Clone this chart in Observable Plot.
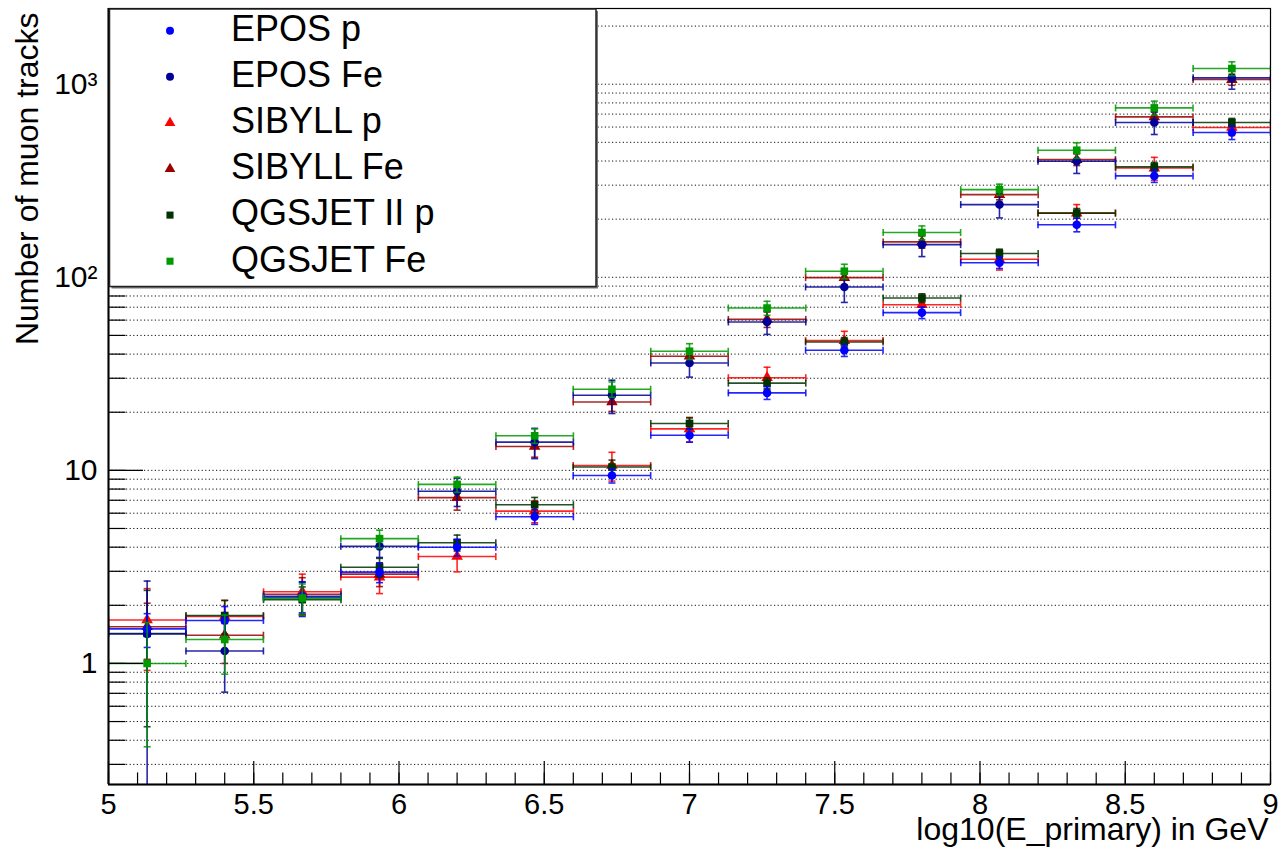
<!DOCTYPE html>
<html>
<head>
<meta charset="utf-8">
<script src="https://cdn.jsdelivr.net/npm/d3@7"></script>
<script src="https://cdn.jsdelivr.net/npm/@observablehq/plot@0.6"></script>
<style>
  html, body { margin: 0; padding: 0; background: #fff; }
  #chart { position: relative; width: 1280px; height: 855px; font-family: "Liberation Sans", Arial, Helvetica, sans-serif; }
  #chart svg { display: block; }
  #legend { position: absolute; left: 100px; top: 0px; }
</style>
</head>
<body>
<div id="chart"></div>
<script>
// Energy bins in log10(E_primary / GeV)
const binCenters = [5.133, 5.4, 5.667, 5.933, 6.2, 6.467, 6.733, 7.0, 7.267, 7.533, 7.8, 8.067, 8.333, 8.6, 8.867];
const binHalfWidth = 0.1333;

// Mean number of muon tracks per bin, with statistical errors
const eposP      = [1.51, 1.67, 2.23, 2.97, 4.0, 5.75, 9.4, 15.2, 25.2, 41.9, 65.6, 119, 187, 335, 562];
const eposPErr   = [0.3, 0.3, 0.4, 0.35, 0.4, 0.5, 0.8, 1.2, 1.9, 3.0, 4.5, 8, 15, 25, 45];
const eposFe     = [1.42, 1.16, 2.2, 4.04, 7.8, 14.0, 24.5, 36.0, 58.7, 89.1, 147.6, 238, 399, 633, 1079];
const eposFeErr  = [1.25, 0.45, 0.45, 0.5, 1.3, 2.5, 4.8, 5.6, 8.1, 15, 19.6, 35, 54, 84, 137];
const sibyllP    = [1.68, 1.75, 2.35, 2.8, 3.58, 6.15, 10.6, 16.4, 30.2, 47.0, 72.1, 124, 215, 368, 597];
const sibyllPErr = [0.76, 0.37, 0.55, 0.5, 0.6, 0.8, 1.8, 2.4, 4.0, 5.5, 6.5, 15, 23, 50, 55];
const sibyllFe   = [1.55, 1.4, 2.28, 2.9, 7.22, 13.3, 22.6, 39.0, 60.5, 99.6, 152.5, 268, 407, 677, 1057];
const sibyllFeErr= [0.5, 0.4, 0.5, 0.4, 1.0, 1.6, 2.4, 3.5, 5.5, 8.5, 11, 16, 28, 45, 70];
const qgsP       = [1.43, 1.77, 2.14, 3.15, 4.22, 6.64, 10.4, 17.5, 28.3, 46.2, 78.1, 132.7, 215, 373, 633];
const qgsPErr    = [0.96, 0.35, 0.35, 0.35, 0.4, 0.6, 0.9, 1.2, 1.8, 2.5, 4, 7, 12, 20, 32];
const qgsFe      = [1.0, 1.33, 2.18, 4.43, 8.46, 15.1, 26.3, 41.4, 69.3, 107.5, 170.5, 284.6, 455, 754, 1206];
const qgsFeErr   = [0.63, 0.45, 0.4, 0.47, 0.77, 1.3, 2.4, 3.9, 5.8, 9.3, 14, 19, 42, 63, 100];

const seriesNames   = ["EPOS p", "EPOS Fe", "SIBYLL p", "SIBYLL Fe", "QGSJET II p", "QGSJET Fe"];
const seriesColors  = ["#0000ff", "#000099", "#ff0000", "#990000", "#003300", "#009900"];
const seriesSymbols = ["circle", "circle", "triangle", "triangle", "square", "square"];
const seriesValues  = [eposP, eposFe, sibyllP, sibyllFe, qgsP, qgsFe];
const seriesErrors  = [eposPErr, eposFeErr, sibyllPErr, sibyllFeErr, qgsPErr, qgsFeErr];
// order in which the histograms are painted (last on top)
const drawOrder = [2, 3, 4, 1, 0, 5];

const xTickLabels = [5, 5.5, 6, 6.5, 7, 7.5, 8, 8.5, 9];
const yTickLabels = [1, 10, 100, 1000];
const yLabelText  = {1: "1", 10: "10", 100: "10\u00B2", 1000: "10\u00B3"};

// layout
const W = 1280, H = 855;
const M = {top: 8, right: 10, bottom: 71, left: 108};
const frameW = W - M.left - M.right;
const frameH = H - M.top - M.bottom;
const xDomain = [5, 9];
const yDomain = [0.236, 2467];
const font = "'Liberation Sans', Arial, Helvetica, sans-serif";

// minor tick / grid values: 1..9 x 10^k inside the y range
const yMinor = [];
for (let k = -1; k <= 3; k++) for (let m = 1; m <= 9; m++) {
  const v = +(m * Math.pow(10, k)).toPrecision(3);
  if (v >= yDomain[0] && v <= yDomain[1]) yMinor.push(v);
}
const xMinor = d3.range(50, 91).map(d => d / 10);

// error-bar end caps
const vCap = {draw(ctx) { ctx.moveTo(0, -3.5); ctx.lineTo(0, 3.5); }};
const hCap = {draw(ctx) { ctx.moveTo(-3.5, 0); ctx.lineTo(3.5, 0); }};

const seriesMarks = drawOrder.flatMap(i => {
  const color = seriesColors[i];
  const rows = binCenters.map((c, j) => ({
    c, lo: c - binHalfWidth, hi: c + binHalfWidth,
    v: seriesValues[i][j], e: seriesErrors[i][j]
  }));
  const line = {stroke: color, strokeWidth: 1.6, strokeOpacity: 0.85, clip: true};
  const cap = {stroke: color, strokeWidth: 1.6, strokeOpacity: 0.85, fill: "none", clip: true};
  return [
    Plot.ruleY(rows, {y: "v", x1: "lo", x2: "hi", ...line}),
    Plot.ruleX(rows, {x: "c", y1: d => d.v - d.e, y2: d => d.v + d.e, ...line}),
    Plot.dot(rows, {x: "lo", y: "v", symbol: vCap, ...cap}),
    Plot.dot(rows, {x: "hi", y: "v", symbol: vCap, ...cap}),
    Plot.dot(rows, {x: "c", y: d => d.v + d.e, symbol: hCap, ...cap}),
    Plot.dot(rows, {x: "c", y: d => d.v - d.e, symbol: hCap, ...cap}),
    Plot.dot(rows, {x: "c", y: "v", symbol: seriesSymbols[i], r: 4.3, fill: color, clip: true})
  ];
});

const chart = Plot.plot({
  width: W,
  height: H,
  marginTop: M.top,
  marginRight: M.right,
  marginBottom: M.bottom,
  marginLeft: M.left,
  style: {fontFamily: font, background: "#fff", color: "#000", overflow: "visible"},
  x: {domain: xDomain, axis: null},
  y: {type: "log", domain: yDomain, axis: null},
  marks: [
    // dotted horizontal grid at every decade subdivision
    Plot.ruleY(yMinor, {y: d => d, stroke: "#111", strokeWidth: 1, strokeDasharray: "1.2,2.4"}),
    ...seriesMarks,
    // inward ticks, ROOT style
    Plot.tickY(yMinor, {y: d => d, insetRight: frameW - 17.5, stroke: "#000", strokeWidth: 1.2}),
    Plot.tickY(yTickLabels, {y: d => d, insetRight: frameW - 35, stroke: "#000", strokeWidth: 1.2}),
    Plot.tickX(xMinor, {x: d => d, insetTop: frameH - 11.6, stroke: "#000", strokeWidth: 1.2}),
    Plot.tickX(xTickLabels, {x: d => d, insetTop: frameH - 23, stroke: "#000", strokeWidth: 1.2}),
    Plot.frame({stroke: "#000", strokeWidth: 1.2}),
    Plot.ruleX([xDomain[0]], {stroke: "#000", strokeWidth: 2}),
    Plot.ruleY([yDomain[0]], {stroke: "#000", strokeWidth: 2}),
    // tick labels
    Plot.text(xTickLabels, {x: d => d, frameAnchor: "bottom", lineAnchor: "top", dy: 9,
                fontSize: 29, fill: "#000", text: d => String(d)}),
    Plot.text(yTickLabels, {y: d => d, frameAnchor: "left", textAnchor: "end", lineAnchor: "middle",
                dx: -11, fontSize: 30, fill: "#000", text: d => yLabelText[d]}),
    // axis titles
    Plot.text(["Number of muon tracks"], {frameAnchor: "top-left", rotate: -90, textAnchor: "end",
                lineAnchor: "bottom", dx: -71, dy: 4, fontSize: 32, fill: "#000"}),
    Plot.text(["log10(E_primary) in GeV"], {frameAnchor: "bottom-right", textAnchor: "end",
                lineAnchor: "bottom", dx: -2, dy: 55, fontSize: 32, fill: "#000"})
  ]
});

const root = document.getElementById("chart");
root.appendChild(chart);

// legend box in the upper-left corner of the frame
const leg = d3.select(root).append("svg")
  .attr("id", "legend")
  .attr("width", 510).attr("height", 300);
leg.append("rect").attr("x", 11.5).attr("y", 11).attr("width", 486.5).attr("height", 277.5)
  .attr("fill", "#777");
leg.append("rect").attr("x", 9.5).attr("y", 9).attr("width", 486.5).attr("height", 277.5)
  .attr("fill", "#fff").attr("stroke", "#222").attr("stroke-width", 1.5);
const symbolType = {circle: d3.symbolCircle, triangle: d3.symbolTriangle, square: d3.symbolSquare};
seriesNames.forEach((name, i) => {
  const rowY = 30.7 + 46.1 * i;
  leg.append("path")
    .attr("d", d3.symbol(symbolType[seriesSymbols[i]], Math.PI * 4.0 * 4.0)())
    .attr("transform", `translate(70,${rowY})`)
    .attr("fill", seriesColors[i]);
  leg.append("text")
    .attr("x", 131).attr("y", rowY + 10.3)
    .attr("font-family", font).attr("font-size", 36).attr("fill", "#000")
    .text(name);
});
</script>
</body>
</html>
